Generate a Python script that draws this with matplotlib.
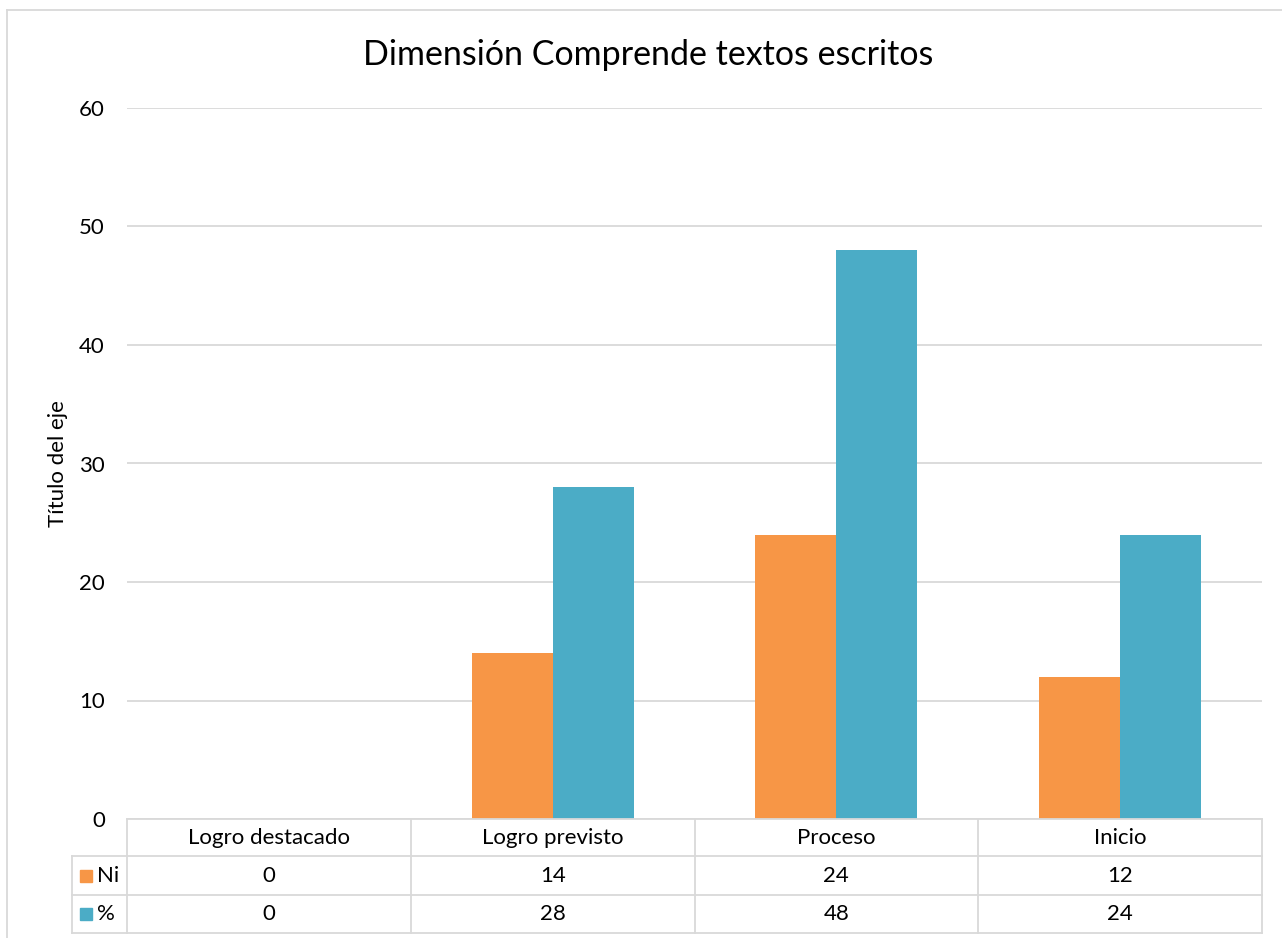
import matplotlib.pyplot as plt
from matplotlib.lines import Line2D
from matplotlib.patches import Rectangle
import numpy as np

plt.rcParams['font.family'] = ['Lato', 'DejaVu Sans']

categories = ['Logro destacado', 'Logro previsto', 'Proceso', 'Inicio']
series_names = ['Ni', '%']
ni_values = [0, 14, 24, 12]
pct_values = [0, 28, 48, 24]
y_ticks = [0, 10, 20, 30, 40, 50, 60]

colors = ['#F79646', '#4BACC6']
grid_color = '#D9D9D9'
fs = 16

W, H = 1282, 938
fig = plt.figure(figsize=(W / 100, H / 100), dpi=100)


def fx(px):
    return px / W


def fy(py):
    return 1 - py / H


# plot area (pixel box of the reference)
left, right, top, bottom = 127, 1262, 108, 819
ax = fig.add_axes([fx(left), fy(bottom), fx(right) - fx(left), fy(top) - fy(bottom)])

x = np.arange(len(categories))
bw = 1 / 3.5  # excel gap width 150%
ax.bar(x - bw / 2, ni_values, bw, color=colors[0], label=series_names[0])
ax.bar(x + bw / 2, pct_values, bw, color=colors[1], label=series_names[1])

ax.set_xlim(-0.5, len(categories) - 0.5)
ax.set_ylim(0, 60)
ax.set_yticks(y_ticks)
ax.yaxis.grid(True, color=grid_color, linewidth=1.3)
ax.set_axisbelow(True)
ax.set_xticks([])
for s in ax.spines.values():
    s.set_visible(False)
ax.tick_params(axis='y', length=0, pad=16, labelsize=fs)

fig.text(fx(58), fy(0.5 * (top + bottom)), 'Título del eje', rotation=90,
         ha='center', va='center', fontsize=fs)
fig.text(fx(648), fy(55), 'Dimensión Comprende textos escritos',
         ha='center', va='center', fontsize=24.5)

# data table below the axis
row_lines = [819, 856, 895, 933]
col_edges = [left + (right - left) * i / len(categories) for i in range(len(categories) + 1)]
label_left = 72
lw = 1.3


def hline(y, x0, x1):
    fig.add_artist(Line2D([fx(x0), fx(x1)], [fy(y), fy(y)], color=grid_color, lw=lw))


def vline(xp, y0, y1):
    fig.add_artist(Line2D([fx(xp), fx(xp)], [fy(y0), fy(y1)], color=grid_color, lw=lw))


hline(row_lines[0], left, right)
for y in row_lines[1:]:
    hline(y, label_left, right)
for xp in col_edges:
    vline(xp, row_lines[0], row_lines[-1])
vline(label_left, row_lines[1], row_lines[-1])

for i, cat in enumerate(categories):
    cx = 0.5 * (col_edges[i] + col_edges[i + 1])
    fig.text(fx(cx), fy(0.5 * (row_lines[0] + row_lines[1])), cat,
             ha='center', va='center', fontsize=fs)
    for r, vals in enumerate([ni_values, pct_values]):
        fig.text(fx(cx), fy(0.5 * (row_lines[r + 1] + row_lines[r + 2])), str(vals[i]),
                 ha='center', va='center', fontsize=fs)

for r, name in enumerate(series_names):
    cy = 0.5 * (row_lines[r + 1] + row_lines[r + 2])
    fig.add_artist(Rectangle((fx(80), fy(cy + 6)), fx(12), 12 / H, color=colors[r]))
    fig.text(fx(97), fy(cy), name, ha='left', va='center', fontsize=fs)

# chart border (left and top visible)
fig.add_artist(Line2D([fx(7), fx(7)], [fy(10), 0], color=grid_color, lw=1.3))
fig.add_artist(Line2D([fx(7), 1], [fy(10), fy(10)], color=grid_color, lw=1.3))

fig.savefig('out.png', dpi=100)
